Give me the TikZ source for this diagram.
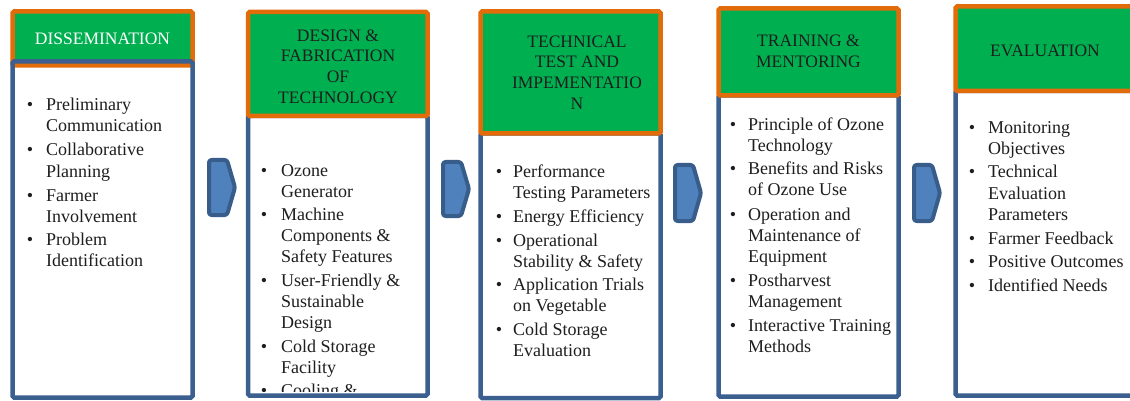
\documentclass[tikz,border=0pt]{standalone}
\usepackage{fontspec}
\setmainfont{Liberation Serif}
\newfontfamily\lserif{Liberation Serif}
\definecolor{hgreen}{HTML}{00B050}
\definecolor{horange}{HTML}{E36C0A}
\definecolor{bblue}{HTML}{3B5F8E}
\definecolor{afill}{HTML}{4F81BD}
\definecolor{aline}{HTML}{385D8A}
\definecolor{txt}{HTML}{1E1E1E}
\tikzset{
 hdr/.style={draw=horange, fill=hgreen, line width=4.5pt, rounded corners=1.5pt, inner sep=0pt},
 bodybox/.style={draw=bblue, line width=4.5pt, rounded corners=1.5pt, inner sep=0pt},
 htext/.style={font=\lserif\fontsize{17.5}{20.7}\selectfont, text=txt, align=center, inner sep=0pt},
 itxt/.style={font=\lserif\fontsize{18}{21}\selectfont, text=txt, anchor=base west, inner sep=0pt},
 bul/.style={font=\lserif\fontsize{18}{21}\selectfont, text=txt, anchor=base, inner sep=0pt},
 chev/.style={draw=aline, fill=afill, line width=4pt, rounded corners=2.5pt, line join=round},
}
\newcommand\mybul[3]{\node[bul] (#1) at (#2,#3) {\textbullet};}
\newcommand\myln[4]{\node[itxt] (#1) at (#2,#3) {#4};}
\begin{document}
\begin{tikzpicture}[x=1pt,y=-1pt]
\useasboundingbox (0,0) rectangle (1130,401);
\clip (0,0) rectangle (1130,401);
\fill[white] (0,0) rectangle (1130,401);

% column 1
\node[hdr, minimum width=180pt, minimum height=54pt] (h1) at (102.5,38.5) {};
\node[bodybox, minimum width=180pt, minimum height=336pt] (b1) at (102.5,229.5) {};
\node[htext, text=white] (h1t) at (102.5,39) {DISSEMINATION};
\mybul{c1a}{30}{111}\myln{c1a1}{46}{111}{Preliminary}\myln{c1a2}{46}{132}{Communication}
\mybul{c1b}{30}{156}\myln{c1b1}{46}{156}{Collaborative}\myln{c1b2}{46}{177}{Planning}
\mybul{c1c}{30}{201}\myln{c1c1}{46}{201}{Farmer}\myln{c1c2}{46}{222}{Involvement}
\mybul{c1d}{30}{245}\myln{c1d1}{46}{245}{Problem}\myln{c1d2}{46}{266}{Identification}

% column 2
\node[bodybox, minimum width=179.5pt, minimum height=279.5pt] (b2) at (337.75,255.75) {};
\node[hdr, minimum width=179.5pt, minimum height=104pt] (h2) at (337.75,64) {};
\node[htext] (h2t) at (338,66.5) {DESIGN \&\\FABRICATION\\OF\\TECHNOLOGY};
\begin{scope}
\clip (248,118) rectangle (427.5,391);
\mybul{c2a}{264}{176}\myln{c2a1}{281}{176}{Ozone}\myln{c2a2}{281}{197}{Generator}
\mybul{c2b}{264}{220}\myln{c2b1}{281}{220}{Machine}\myln{c2b2}{281}{241}{Components \&}\myln{c2b3}{281}{262}{Safety Features}
\mybul{c2c}{264}{286}\myln{c2c1}{281}{286}{User-Friendly \&}\myln{c2c2}{281}{307}{Sustainable}\myln{c2c3}{281}{328}{Design}
\mybul{c2d}{264}{352}\myln{c2d1}{281}{352}{Cold Storage}\myln{c2d2}{281}{373}{Facility}
\mybul{c2e}{264}{396}\myln{c2e1}{281}{396}{Cooling \&}
\end{scope}

% column 3
\node[bodybox, minimum width=180pt, minimum height=264.5pt] (b3) at (570.5,265.75) {};
\node[hdr, minimum width=180pt, minimum height=122pt] (h3) at (570.5,72.5) {};
\node[htext] (h3t) at (577,72.5) {TECHNICAL\\TEST AND\\IMPEMENTATIO\\N};
\mybul{c3a}{499}{177}\myln{c3a1}{513}{177}{Performance}\myln{c3a2}{513}{198}{Testing Parameters}
\mybul{c3b}{499}{222}\myln{c3b1}{513}{222}{Energy Efficiency}
\mybul{c3c}{499}{246}\myln{c3c1}{513}{246}{Operational}\myln{c3c2}{513}{267}{Stability \& Safety}
\mybul{c3d}{499}{290}\myln{c3d1}{513}{290}{Application Trials}\myln{c3d2}{513}{311}{on Vegetable}
\mybul{c3e}{499}{335}\myln{c3e1}{513}{335}{Cold Storage}\myln{c3e2}{513}{356}{Evaluation}

% column 4
\node[bodybox, minimum width=180pt, minimum height=301pt] (b4) at (808.5,246) {};
\node[hdr, minimum width=180pt, minimum height=87pt] (h4) at (808.5,52) {};
\node[htext] (h4t) at (808.5,51.5) {TRAINING \&\\MENTORING};
\mybul{c4a}{733}{131}\myln{c4a1}{748}{131}{Principle of Ozone}\myln{c4a2}{748}{152}{Technology}
\mybul{c4b}{733}{175}\myln{c4b1}{748}{175}{Benefits and Risks}\myln{c4b2}{748}{196}{of Ozone Use}
\mybul{c4c}{733}{220}\myln{c4c1}{748}{220}{Operation and}\myln{c4c2}{748}{241}{Maintenance of}\myln{c4c3}{748}{262}{Equipment}
\mybul{c4d}{733}{286}\myln{c4d1}{748}{286}{Postharvest}\myln{c4d2}{748}{307}{Management}
\mybul{c4e}{733}{331}\myln{c4e1}{748}{331}{Interactive Training}\myln{c4e2}{748}{352}{Methods}

% column 5
\node[bodybox, minimum width=184.5pt, minimum height=304.5pt] (b5) at (1047.75,243.25) {};
\node[hdr, minimum width=184.5pt, minimum height=84.5pt] (h5) at (1047.75,48.75) {};
\node[htext] (h5t) at (1045,51) {EVALUATION};
\mybul{c5a}{972}{134}\myln{c5a1}{988}{134}{Monitoring}\myln{c5a2}{988}{154}{Objectives}
\mybul{c5b}{972}{178}\myln{c5b1}{988}{178}{Technical}\myln{c5b2}{988}{199}{Evaluation}\myln{c5b3}{988}{220}{Parameters}
\mybul{c5c}{972}{244}\myln{c5c1}{988}{244}{Farmer Feedback}
\mybul{c5d}{972}{267}\myln{c5d1}{988}{267}{Positive Outcomes}
\mybul{c5e}{972}{291}\myln{c5e1}{988}{291}{Identified Needs}

% chevrons
\draw[chev] (209,160) -- (227,160) -- (235,187.5) -- (227,215) -- (209,215) -- cycle;
\draw[chev] (443,162) -- (461,162) -- (469,189) -- (461,216) -- (443,216) -- cycle;
\draw[chev] (675,165) -- (693,165) -- (701,193) -- (693,221) -- (675,221) -- cycle;
\draw[chev] (914,165) -- (932,165) -- (940,193) -- (932,221) -- (914,221) -- cycle;
\end{tikzpicture}
\end{document}
